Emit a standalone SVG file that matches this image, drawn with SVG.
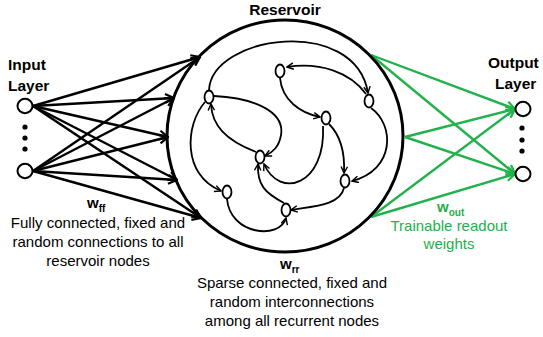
<svg xmlns="http://www.w3.org/2000/svg" width="543" height="337" viewBox="0 0 543 337">
<style>
text{font-family:"Liberation Sans",Arial,sans-serif;}
.hd{font-size:15.5px;font-weight:bold;fill:#000;}
.bd{font-size:15px;fill:#000;text-anchor:middle;}
.gr{fill:#22B14C;}
.w{font-size:15px;font-weight:bold;}
.sub{font-size:10px;}
.io{fill:#fff;stroke:#000;stroke-width:2;}
.rn{fill:#fff;stroke:#000;stroke-width:1.8;}
.dot{fill:#000;}
.in{stroke:#000;stroke-width:2.4;fill:none;marker-end:url(#ab);}
.out{stroke:#22B14C;stroke-width:2.4;fill:none;marker-end:url(#ag);}
.rc{stroke:#000;stroke-width:1.8;fill:none;marker-end:url(#as);}
.rca{stroke:#000;stroke-width:1.8;fill:none;}
</style>
<defs>
<marker id="ab" viewBox="0 0 10 10" refX="9" refY="5" markerWidth="11" markerHeight="11" orient="auto" markerUnits="userSpaceOnUse"><path d="M1,1 L9,5 L1,9" fill="none" stroke="#000" stroke-width="2"/></marker>
<marker id="ag" viewBox="0 0 10 10" refX="9" refY="5" markerWidth="11" markerHeight="11" orient="auto" markerUnits="userSpaceOnUse"><path d="M1,1 L9,5 L1,9" fill="none" stroke="#22B14C" stroke-width="2"/></marker>
<marker id="as" viewBox="0 0 10 10" refX="9" refY="5" markerWidth="8" markerHeight="8" orient="auto" markerUnits="userSpaceOnUse"><path d="M1,1 L9,5 L1,9" fill="none" stroke="#000" stroke-width="1.8"/></marker>
</defs>
<rect width="543" height="337" fill="#fff"/>

<g id="connectors">
<!-- input fan -->
<path class="in" d="M33,106 L200,57"/>
<path class="in" d="M33,106 L174,98"/>
<path class="in" d="M33,106 L168,137"/>
<path class="in" d="M33,106 L177,180"/>
<path class="in" d="M33,106 L201,218"/>
<path class="in" d="M33,171 L200,57"/>
<path class="in" d="M33,171 L174,98"/>
<path class="in" d="M33,171 L168,137"/>
<path class="in" d="M33,171 L177,180"/>
<path class="in" d="M33,171 L201,218"/>
<!-- output readout -->
<path class="out" d="M371,55 L515,109"/>
<path class="out" d="M371,55 L515,174"/>
<path class="out" d="M405,137 L515,109"/>
<path class="out" d="M405,137 L515,174"/>
<path class="out" d="M371,217 L515,109"/>
<path class="out" d="M371,217 L515,174"/>
<!-- recurrent -->
<path class="rc" d="M209,90 C212,35 355,15 368,93"/>
<path class="rc" d="M366,94 C350,72 320,62 287,67"/>
<path class="rc" d="M280,78 C282,100 300,113 320,117"/>
<path class="rc" d="M214,96 C255,98 285,112 281,135 C279,147 273,152 265,156"/>
<path class="rc" d="M256,152 C225,140 212,125 211,104"/>
<path class="rc" d="M205,102 C185,125 182,175 221,191"/>
<path class="rc" d="M329,124 C340,135 345,152 344,173"/>
<path class="rc" d="M323,126 C326,185 280,200 264,164"/>
<path class="rc" d="M371,108 C395,125 395,170 352,181"/>
<path class="rc" d="M344,188 C340,205 315,206 291,210"/>
<path class="rc" d="M284,203 C265,193 257,185 258,164"/>
<path class="rc" d="M227,199 C230,235 280,240 286,218"/>
</g>

<g id="reservoir">
<ellipse cx="285" cy="136" rx="118" ry="116" fill="none" stroke="#000" stroke-width="3"/>
<text class="hd" x="285" y="15" text-anchor="middle">Reservoir</text>
</g>

<g id="r1"><ellipse class="rn" cx="280" cy="71" rx="4.5" ry="6.5"/></g>
<g id="r2"><ellipse class="rn" cx="209" cy="97" rx="4.5" ry="6.5"/></g>
<g id="r3"><ellipse class="rn" cx="369" cy="101" rx="4.5" ry="6.5"/></g>
<g id="r4"><ellipse class="rn" cx="326" cy="118" rx="4.5" ry="6.5"/></g>
<g id="r5"><ellipse class="rn" cx="260" cy="157" rx="4.5" ry="6.5"/></g>
<g id="r6"><ellipse class="rn" cx="345" cy="181" rx="4.5" ry="6.5"/></g>
<g id="r7"><ellipse class="rn" cx="227" cy="192" rx="4.5" ry="6.5"/></g>
<g id="r8"><ellipse class="rn" cx="286" cy="210" rx="4.5" ry="6.5"/></g>

<g id="input-layer">
<text class="hd" x="8" y="70">Input</text>
<text class="hd" x="8" y="91">Layer</text>
<ellipse class="io" cx="25" cy="106" rx="7.5" ry="7.2"/>
<circle class="dot" cx="25" cy="127" r="2.6"/>
<circle class="dot" cx="25" cy="138" r="2.6"/>
<circle class="dot" cx="25" cy="149" r="2.6"/>
<ellipse class="io" cx="25" cy="171" rx="7.5" ry="7.2"/>
</g>

<g id="output-layer">
<text class="hd" x="488" y="68">Output</text>
<text class="hd" x="495" y="89">Layer</text>
<ellipse class="io" cx="523" cy="109" rx="7.5" ry="7.2"/>
<circle class="dot" cx="522" cy="128" r="2.6"/>
<circle class="dot" cx="522" cy="140" r="2.6"/>
<circle class="dot" cx="522" cy="151" r="2.6"/>
<ellipse class="io" cx="523" cy="174" rx="7.5" ry="7.2"/>
</g>

<g id="label-wff">
<text class="w" x="87" y="208">w<tspan class="sub" dy="4">ff</tspan></text>
<text class="bd" x="98" y="228">Fully connected, fixed and</text>
<text class="bd" x="98" y="247">random connections to all</text>
<text class="bd" x="98" y="266">reservoir nodes</text>
</g>

<g id="label-wrr">
<text class="w" x="280" y="269">w<tspan class="sub" dy="4">rr</tspan></text>
<text class="bd" x="292" y="288">Sparse connected, fixed and</text>
<text class="bd" x="292" y="307">random interconnections</text>
<text class="bd" x="292" y="326">among all recurrent nodes</text>
</g>

<g id="label-wout">
<text class="w gr" x="437" y="212">w<tspan class="sub" dy="4">out</tspan></text>
<text class="bd gr" x="449" y="231">Trainable readout</text>
<text class="bd gr" x="449" y="249">weights</text>
</g>
</svg>
